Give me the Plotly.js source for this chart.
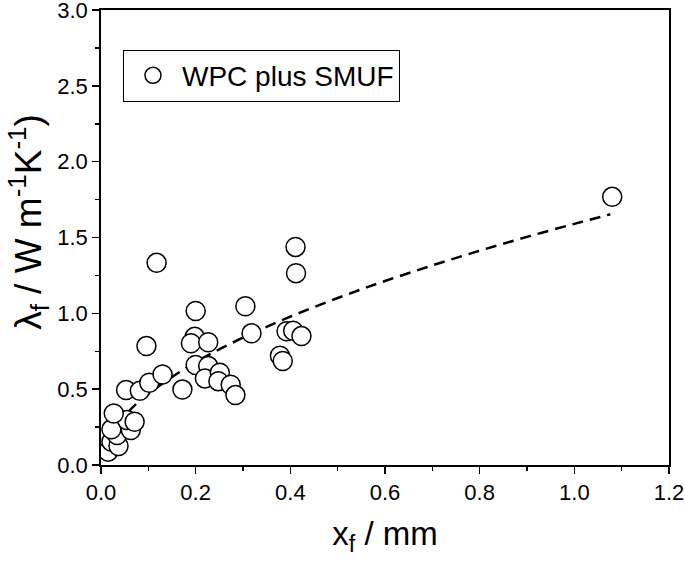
<!DOCTYPE html>
<html>
<head>
<meta charset="utf-8">
<script src="https://cdn.plot.ly/plotly-3.0.1.min.js"></script>
<style>html,body{margin:0;padding:0;background:#fff}#chart{width:685px;height:562px}</style>
</head>
<body>
<div id="chart"></div>
<script>
// Measured data: WPC plus SMUF
const xf = [0.015, 0.022, 0.037, 0.034, 0.022, 0.063, 0.055, 0.071, 0.027, 0.053,
            0.082, 0.102, 0.130, 0.096, 0.1175, 0.172, 0.200, 0.198, 0.190, 0.2265,
            0.200, 0.2265, 0.2195, 0.251, 0.248, 0.274, 0.284, 0.305, 0.318, 0.392,
            0.406, 0.4235, 0.378, 0.384, 0.411, 0.412, 1.08];
const lambdaF = [0.088, 0.154, 0.125, 0.198, 0.235, 0.230, 0.296, 0.285, 0.340, 0.494,
                 0.489, 0.542, 0.597, 0.784, 1.333, 0.497, 1.015, 0.845, 0.803, 0.809,
                 0.659, 0.652, 0.571, 0.609, 0.553, 0.529, 0.461, 1.047, 0.868, 0.882,
                 0.885, 0.850, 0.720, 0.686, 1.438, 1.265, 1.768];
// Fit curve (dashed)
const fitX = [0.013, 0.05, 0.1, 0.2, 0.3, 0.4, 0.5, 0.6, 0.7, 0.8, 0.9, 1.0, 1.076];
const fitY = [0.159, 0.325, 0.469, 0.678, 0.840, 0.978, 1.101, 1.213, 1.316, 1.413, 1.504, 1.590, 1.653];
const seriesName = "WPC plus SMUF";
const xTitle = "x<sub>f</sub> / mm";
const yTitle = "λ<sub>f</sub> / W m<sup>-1</sup>K<sup>-1</sup>)";

const traces = [
  {x: fitX, y: fitY, mode: "lines", type: "scatter", showlegend: false, hoverinfo: "skip",
   line: {color: "#000", width: 2.5, dash: "11px,7px", shape: "spline"}},
  {x: xf, y: lambdaF, mode: "markers", type: "scatter", name: seriesName,
   marker: {symbol: "circle", size: 19, color: "#fff", line: {color: "#000", width: 1.5}}}
];

const FAM = "Liberation Sans, Arial, sans-serif";
const tickFont = {family: FAM, size: 22, color: "#000"};
const layout = {
  width: 685, height: 562,
  margin: {l: 101, r: 15.5, t: 9.5, b: 97},
  paper_bgcolor: "#fff", plot_bgcolor: "#fff",
  font: tickFont,
  showlegend: true,
  legend: {x: 0.0387, y: 0.913, xanchor: "left", yanchor: "top",
           bordercolor: "#000", borderwidth: 1, bgcolor: "#fff",
           font: {family: FAM, size: 28, color: "#000"},
           itemwidth: 48, itemsizing: "trace"},
  xaxis: {range: [0, 1.2], dtick: 0.2, tick0: 0, tickformat: ".1f",
          showgrid: false, zeroline: false, showline: true, linecolor: "#000", linewidth: 1.8,
          mirror: true, ticks: "outside", ticklen: 7, tickwidth: 1.5, tickcolor: "#000",
          ticklabeloverflow: "allow",
          minor: {dtick: 0.1, ticks: "outside", ticklen: 4, tickwidth: 1.5, tickcolor: "#000", showgrid: false},
          tickfont: tickFont,
          title: {text: xTitle, font: {family: FAM, size: 33, color: "#000"}, standoff: 18}},
  yaxis: {range: [0, 3.0001], dtick: 0.5, tick0: 0, tickformat: ".1f",
          showgrid: false, zeroline: false, showline: true, linecolor: "#000", linewidth: 1.8,
          mirror: true, ticks: "outside", ticklen: 7, tickwidth: 1.5, tickcolor: "#000",
          ticklabeloverflow: "allow",
          minor: {dtick: 0.25, ticks: "outside", ticklen: 4, tickwidth: 1.5, tickcolor: "#000", showgrid: false},
          tickfont: tickFont},
  annotations: [
    {text: yTitle, xref: "paper", yref: "paper", x: -0.128, y: 0.535,
     xanchor: "center", yanchor: "middle", textangle: -90, showarrow: false,
     font: {family: FAM, size: 37, color: "#000"}}
  ]
};
Plotly.newPlot("chart", traces, layout, {staticPlot: true, displayModeBar: false});
</script>
</body>
</html>
